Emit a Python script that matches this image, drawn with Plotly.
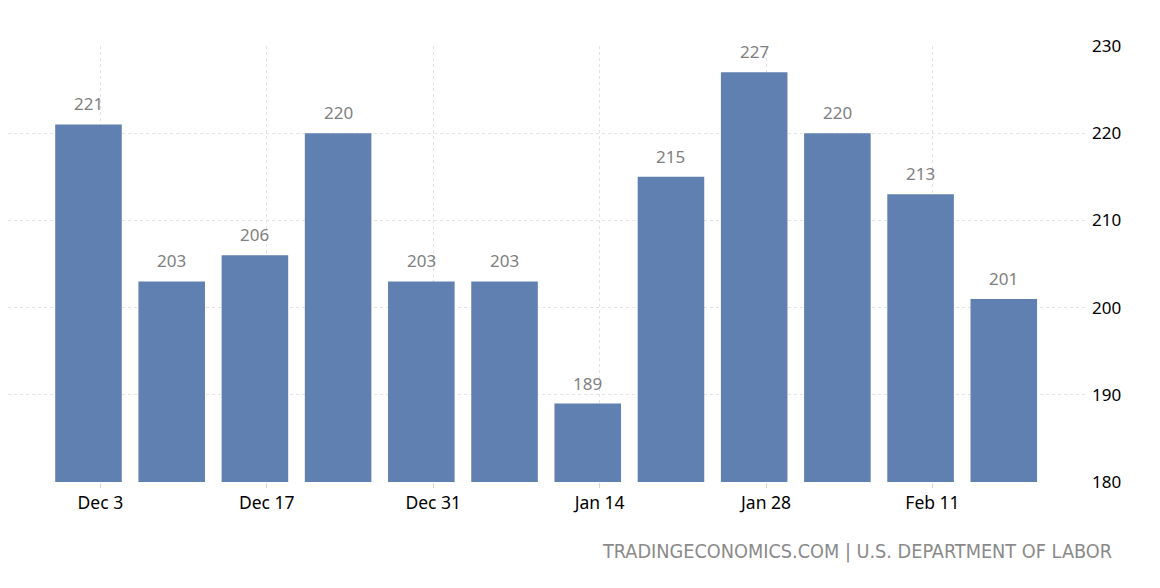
import plotly.graph_objects as go

dates = ["2017-12-02", "2017-12-09", "2017-12-16", "2017-12-23", "2017-12-30", "2018-01-06",
         "2018-01-13", "2018-01-20", "2018-01-27", "2018-02-03", "2018-02-10", "2018-02-17"]
values = [221, 203, 206, 220, 203, 203, 189, 215, 227, 220, 213, 201]
tick_dates = ["2017-12-03", "2017-12-17", "2017-12-31", "2018-01-14", "2018-01-28", "2018-02-11"]
tick_labels = ["Dec 3", "Dec 17", "Dec 31", "Jan 14", "Jan 28", "Feb 11"]
y_ticks = [180, 190, 200, 210, 220, 230]

fig = go.Figure()
fig.add_trace(go.Bar(
    x=dates, y=values,
    marker=dict(color="#5f80b0", line=dict(width=0)),
    cliponaxis=False,
))

annotations = [dict(
    x=d, y=v, xref="x", yref="y", text=str(v), showarrow=False,
    yanchor="bottom", xanchor="center", yshift=7,
    font=dict(color="#808080", size=17, family="Noto Sans"),
) for d, v in zip(dates, values)]

annotations.append(dict(
    text="TRADINGECONOMICS.COM | U.S. DEPARTMENT OF LABOR",
    xref="paper", yref="paper", x=1.025, y=-0.16, xanchor="right", yanchor="middle",
    showarrow=False, font=dict(size=19.7, color="#8a8a8a", family="DejaVu Sans Condensed"),
))

fig.update_layout(
    width=1160, height=588,
    margin=dict(l=0, r=81, t=38, b=114),
    paper_bgcolor="white", plot_bgcolor="white",
    bargap=0.2, showlegend=False,
    font=dict(family="Noto Sans", color="black", size=16),
    xaxis=dict(
        type="date", range=["2017-11-25 05:30", "2018-02-24"],
        tickvals=tick_dates, ticktext=tick_labels,
        showgrid=True, gridcolor="#e3e3e3", griddash="dot", gridwidth=1,
        ticks="outside", ticklen=5, tickcolor="#d8d8d8",
        tickfont=dict(size=17.5, color="black"),
        showline=False, zeroline=False,
    ),
    yaxis=dict(
        side="right", range=[180, 230], tickvals=y_ticks,
        showgrid=True, gridcolor="#e3e3e3", griddash="dot", gridwidth=1,
        tickfont=dict(size=17, color="black"), ticks="", ticklabelstandoff=4,
        zeroline=False, showline=False,
    ),
    annotations=annotations,
)

fig.write_html("out.html")
